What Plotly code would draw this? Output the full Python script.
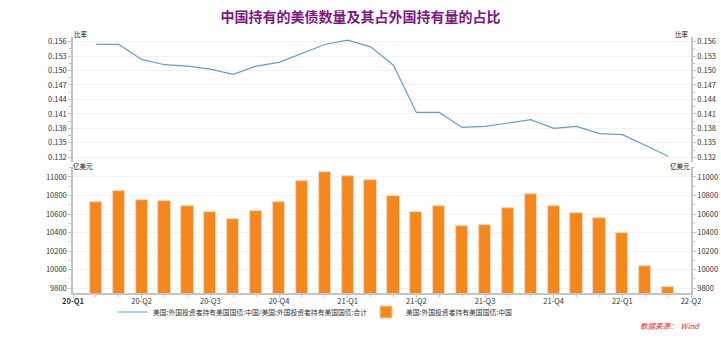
import plotly.graph_objects as go

# Monthly observations, Jan 2020 .. Feb 2022 (plotted at month index 1..26)
months = list(range(1, 27))
holdings = [10730, 10845, 10750, 10740, 10690, 10625, 10545, 10635, 10725,
            10960, 11050, 11010, 10970, 10790, 10625, 10690, 10475, 10480,
            10665, 10815, 10690, 10610, 10555, 10400, 10035, 9810]
share = [0.1554, 0.1554, 0.1523, 0.1512, 0.1509, 0.1503, 0.1492, 0.1509, 0.1517,
         0.1536, 0.1554, 0.1563, 0.1549, 0.1511, 0.1413, 0.1413, 0.1382, 0.1384,
         0.1391, 0.1398, 0.1380, 0.1384, 0.1369, 0.1367, 0.1345, 0.1322]
quarter_pos = [0, 3, 6, 9, 12, 15, 18, 21, 24, 27]
quarter_labels = ["<b>20-Q1</b>", "20-Q2", "20-Q3", "20-Q4", "21-Q1",
                  "21-Q2", "21-Q3", "21-Q4", "22-Q1", "22-Q2"]
share_ticks = [0.132, 0.135, 0.138, 0.141, 0.144, 0.147, 0.150, 0.153, 0.156]
holding_ticks = [9800, 10000, 10200, 10400, 10600, 10800, 11000]

W, H = 721, 339
FONT = "Noto Sans CJK SC"
AXIS_COL = "#c4c4c4"
TICK_FONT = dict(family=FONT, size=7.5, color="#333333")
LEGEND_FONT = dict(family=FONT, size=6.8, color="#333333")

def px_x(v):
    return v / W

def px_y(v):
    return 1 - v / H

x_dom = [px_x(73), px_x(691)]
upper_dom = [px_y(162), px_y(37)]
lower_dom = [px_y(293), px_y(167)]
share_range = [0.13102, 0.15695]
hold_range = [9746, 11108]

line_name = "美国:外国投资者持有美国国债:中国/美国:外国投资者持有美国国债:合计"
bar_name = "美国:外国投资者持有美国国债:中国"

fig = go.Figure()

fig.add_trace(go.Bar(
    x=months, y=holdings, name=bar_name, width=0.53,
    marker=dict(color="#F5871C", line=dict(color="#FBC79A", width=1)),
    xaxis="x", yaxis="y", legend="legend2",
))
fig.add_trace(go.Bar(
    x=months, y=holdings, width=0.53, showlegend=False, hoverinfo="skip",
    marker=dict(color="rgba(0,0,0,0)"), xaxis="x", yaxis="y2",
))
fig.add_trace(go.Scatter(
    x=months, y=share, name=line_name, mode="lines",
    line=dict(color="#5FA1C9", width=1.2),
    xaxis="x2", yaxis="y3", legend="legend",
))
fig.add_trace(go.Scatter(
    x=months, y=share, mode="lines", showlegend=False, hoverinfo="skip",
    line=dict(color="rgba(0,0,0,0)", width=0), xaxis="x2", yaxis="y4",
))

def y_axis(**kw):
    base = dict(
        showline=True, linecolor=AXIS_COL, linewidth=1.5,
        ticks="outside", ticklen=3, tickcolor=AXIS_COL, tickwidth=1,
        showgrid=True, gridcolor="#f2f2f2", gridwidth=1,
        zeroline=False, tickfont=TICK_FONT, fixedrange=True,
        automargin=False,
    )
    base.update(kw)
    return base

fig.update_layout(
    width=W, height=H,
    margin=dict(l=0, r=0, t=0, b=0),
    plot_bgcolor="white", paper_bgcolor="white",
    font=dict(family=FONT),
    bargap=0,
    title=dict(
        text="<b>中国持有的美债数量及其占外国持有量的占比</b>",
        x=0.5, xanchor="center", y=1 - 17 / H, yanchor="middle",
        font=dict(family=FONT, size=14, color="#7E1783"),
    ),
    xaxis=dict(
        domain=x_dom, anchor="y", range=[0, 27], automargin=False,
        tickmode="array", tickvals=quarter_pos, ticktext=quarter_labels,
        showline=True, linecolor=AXIS_COL, linewidth=1.5,
        ticks="outside", ticklen=3, tickcolor=AXIS_COL,
        ticklabelstandoff=-3,
        minor=dict(dtick=1, tick0=0, ticks="outside", ticklen=2, tickcolor=AXIS_COL, showgrid=False),
        showgrid=False, zeroline=False, tickfont=TICK_FONT,
    ),
    xaxis2=dict(
        domain=x_dom, anchor="y3", range=[0, 27], matches="x", automargin=False,
        showticklabels=False, showline=False, showgrid=False,
        ticks="", zeroline=False,
    ),
    yaxis=y_axis(
        domain=lower_dom, anchor="x", side="left", range=hold_range,
        tickmode="array", tickvals=holding_ticks, tickformat="d",
        minor=dict(dtick=100, tick0=9800, ticks="outside", ticklen=2, tickcolor=AXIS_COL),
    ),
    yaxis2=y_axis(
        overlaying="y", anchor="x", side="right", range=hold_range,
        tickmode="array", tickvals=holding_ticks, tickformat="d", showgrid=False,
        minor=dict(dtick=100, tick0=9800, ticks="outside", ticklen=2, tickcolor=AXIS_COL),
    ),
    yaxis3=y_axis(
        domain=upper_dom, anchor="x2", side="left", range=share_range,
        tickmode="array", tickvals=share_ticks, tickformat=".3f",
        minor=dict(dtick=0.0015, tick0=0.132, ticks="outside", ticklen=2, tickcolor=AXIS_COL),
    ),
    yaxis4=y_axis(
        overlaying="y3", anchor="x2", side="right", range=share_range,
        tickmode="array", tickvals=share_ticks, tickformat=".3f", showgrid=False,
        minor=dict(dtick=0.0015, tick0=0.132, ticks="outside", ticklen=2, tickcolor=AXIS_COL),
    ),
    legend=dict(
        orientation="h", x=px_x(113), xanchor="left", y=px_y(312), yanchor="middle",
        font=LEGEND_FONT, itemwidth=30, bgcolor="rgba(0,0,0,0)",
    ),
    legend2=dict(
        orientation="h", x=px_x(366), xanchor="left", y=px_y(312), yanchor="middle",
        font=LEGEND_FONT, itemwidth=30, bgcolor="rgba(0,0,0,0)",
    ),
    showlegend=True,
)

# Unit labels above each value axis
unit_font = dict(family=FONT, size=6.5, color="#111111")
for txt, xp, yp, anchor in [
    ("比率", 73, 34, "left"), ("比率", 690, 34, "right"),
    ("亿美元", 72, 166, "left"), ("亿美元", 691, 166, "right"),
]:
    fig.add_annotation(
        text=txt, xref="paper", yref="paper", x=px_x(xp), y=px_y(yp),
        xanchor=anchor, yanchor="middle", showarrow=False, font=unit_font,
        borderpad=0,
    )

fig.add_annotation(
    text="<i>数据来源：  Wind</i>", xref="paper", yref="paper",
    x=px_x(702), y=px_y(325), xanchor="right", yanchor="middle",
    showarrow=False, font=dict(family=FONT, size=7.5, color="#E8262B"),
)

fig.write_html("out.html")
